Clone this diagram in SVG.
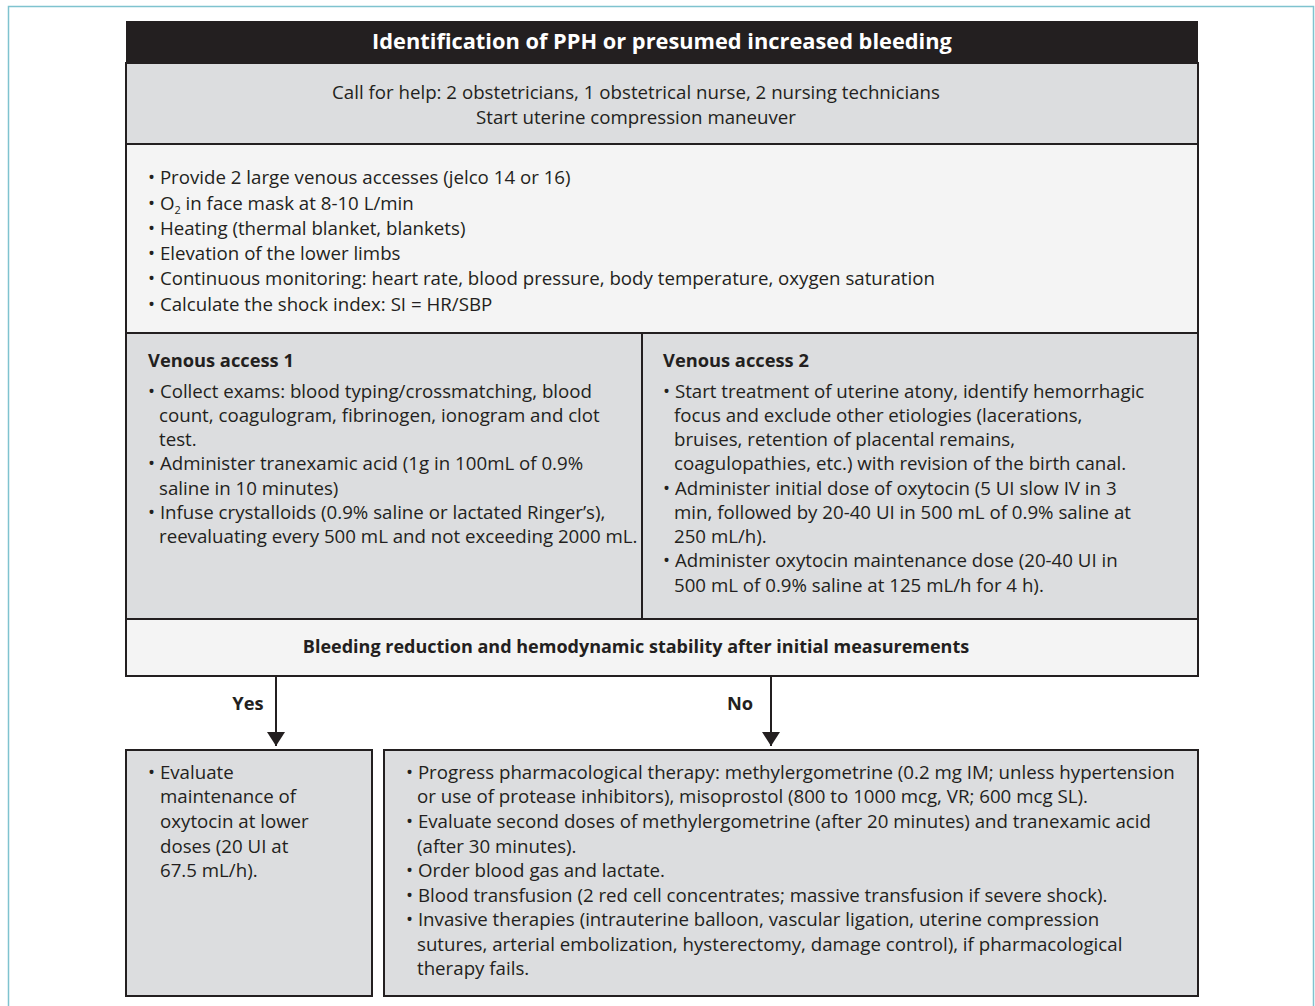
<svg xmlns="http://www.w3.org/2000/svg" width="1315" height="1006" viewBox="0 0 1315 1006">
<style>
.t{font-family:"Open Sans",Lato,"Liberation Sans",sans-serif;font-size:18.7px;fill:#231f20}
.b{font-weight:bold;font-size:18.3px}
.d{font-size:18px}
.h{font-size:21.8px}
.w{fill:#ffffff}
.c{text-anchor:middle}
.box{stroke:#231f20;stroke-width:2}
.gray{fill:#dcdddf}
.light{fill:#f4f4f4}
.ln{stroke:#231f20;stroke-width:2;fill:none}
</style>
<defs>
<marker id="ah" markerWidth="14" markerHeight="18" refX="14" refY="9" orient="auto" markerUnits="userSpaceOnUse" viewBox="0 0 14 18">
<path d="M0,0 L14,9 L0,18 Z" fill="#231f20"/>
</marker>
</defs>
<rect x="8.5" y="6.5" width="1305" height="1020" fill="#ffffff" stroke="#7fc3cf" stroke-width="1.5"/>

<g id="header">
<rect x="126" y="21" width="1072" height="42" fill="#231f20"/>
<text class="t b h w c" x="662" y="49">Identification of PPH or presumed increased bleeding</text>
</g>
<g id="call-help">
<rect x="126" y="63" width="1072" height="81" class="gray box"/>
<text class="t c" x="636" y="99">Call for help: 2 obstetricians, 1 obstetrical nurse, 2 nursing technicians</text>
<text class="t c" x="636" y="124">Start uterine compression maneuver</text>
</g>
<g id="initial-measures">
<rect x="126" y="144" width="1072" height="189" class="light box"/>
<text class="t" x="148" y="184">• Provide 2 large venous accesses (jelco 14 or 16)</text>
<text class="t" x="148" y="210">• O<tspan font-size="11" dy="4">2</tspan><tspan dy="-4"> in face mask at 8-10 L/min</tspan></text>
<text class="t" x="148" y="235">• Heating (thermal blanket, blankets)</text>
<text class="t" x="148" y="260">• Elevation of the lower limbs</text>
<text class="t" x="148" y="285">• Continuous monitoring: heart rate, blood pressure, body temperature, oxygen saturation</text>
<text class="t" x="148" y="311">• Calculate the shock index: SI = HR/SBP</text>
</g>
<g id="venous-access-1">
<rect x="126" y="333" width="516" height="286" class="gray box"/>
<text class="t b" x="148" y="367">Venous access 1</text>
<text class="t" x="148" y="398">• Collect exams: blood typing/crossmatching, blood</text>
<text class="t" x="159" y="422">count, coagulogram, fibrinogen, ionogram and clot</text>
<text class="t" x="159" y="446">test.</text>
<text class="t" x="148" y="470">• Administer tranexamic acid (1g in 100mL of 0.9%</text>
<text class="t" x="159" y="495">saline in 10 minutes)</text>
<text class="t" x="148" y="519">• Infuse crystalloids (0.9% saline or lactated Ringer’s),</text>
<text class="t" x="159" y="543">reevaluating every 500 mL and not exceeding 2000 mL.</text>
</g>
<g id="venous-access-2">
<rect x="642" y="333" width="556" height="286" class="gray box"/>
<text class="t b" x="663" y="367">Venous access 2</text>
<text class="t" x="663" y="398">• Start treatment of uterine atony, identify hemorrhagic</text>
<text class="t" x="674" y="422">focus and exclude other etiologies (lacerations,</text>
<text class="t" x="674" y="446">bruises, retention of placental remains,</text>
<text class="t" x="674" y="470">coagulopathies, etc.) with revision of the birth canal.</text>
<text class="t" x="663" y="495">• Administer initial dose of oxytocin (5 UI slow IV in 3</text>
<text class="t" x="674" y="519">min, followed by 20-40 UI in 500 mL of 0.9% saline at</text>
<text class="t" x="674" y="543">250 mL/h).</text>
<text class="t" x="663" y="567">• Administer oxytocin maintenance dose (20-40 UI in</text>
<text class="t" x="674" y="592">500 mL of 0.9% saline at 125 mL/h for 4 h).</text>
</g>
<g id="decision">
<rect x="126" y="619" width="1072" height="57" class="light box"/>
<text class="t b d c" x="636" y="653">Bleeding reduction and hemodynamic stability after initial measurements</text>
</g>
<g id="connectors">
<line x1="276" y1="676" x2="276" y2="746" class="ln" marker-end="url(#ah)"/>
<line x1="771" y1="676" x2="771" y2="746" class="ln" marker-end="url(#ah)"/>
<text class="t b c" x="248" y="710">Yes</text>
<text class="t b c" x="740" y="710">No</text>
</g>
<g id="yes-box">
<rect x="126" y="750" width="246" height="246" class="gray box"/>
<text class="t" x="148" y="779">• Evaluate</text>
<text class="t" x="160" y="803">maintenance of</text>
<text class="t" x="160" y="828">oxytocin at lower</text>
<text class="t" x="160" y="853">doses (20 UI at</text>
<text class="t" x="160" y="877">67.5 mL/h).</text>
</g>
<g id="no-box">
<rect x="384" y="750" width="814" height="246" class="gray box"/>
<text class="t" x="406" y="779">• Progress pharmacological therapy: methylergometrine (0.2 mg IM; unless hypertension</text>
<text class="t" x="417" y="803">or use of protease inhibitors), misoprostol (800 to 1000 mcg, VR; 600 mcg SL).</text>
<text class="t" x="406" y="828">• Evaluate second doses of methylergometrine (after 20 minutes) and tranexamic acid</text>
<text class="t" x="417" y="853">(after 30 minutes).</text>
<text class="t" x="406" y="877">• Order blood gas and lactate.</text>
<text class="t" x="406" y="902">• Blood transfusion (2 red cell concentrates; massive transfusion if severe shock).</text>
<text class="t" x="406" y="926">• Invasive therapies (intrauterine balloon, vascular ligation, uterine compression</text>
<text class="t" x="417" y="951">sutures, arterial embolization, hysterectomy, damage control), if pharmacological</text>
<text class="t" x="417" y="975">therapy fails.</text>
</g>
</svg>
